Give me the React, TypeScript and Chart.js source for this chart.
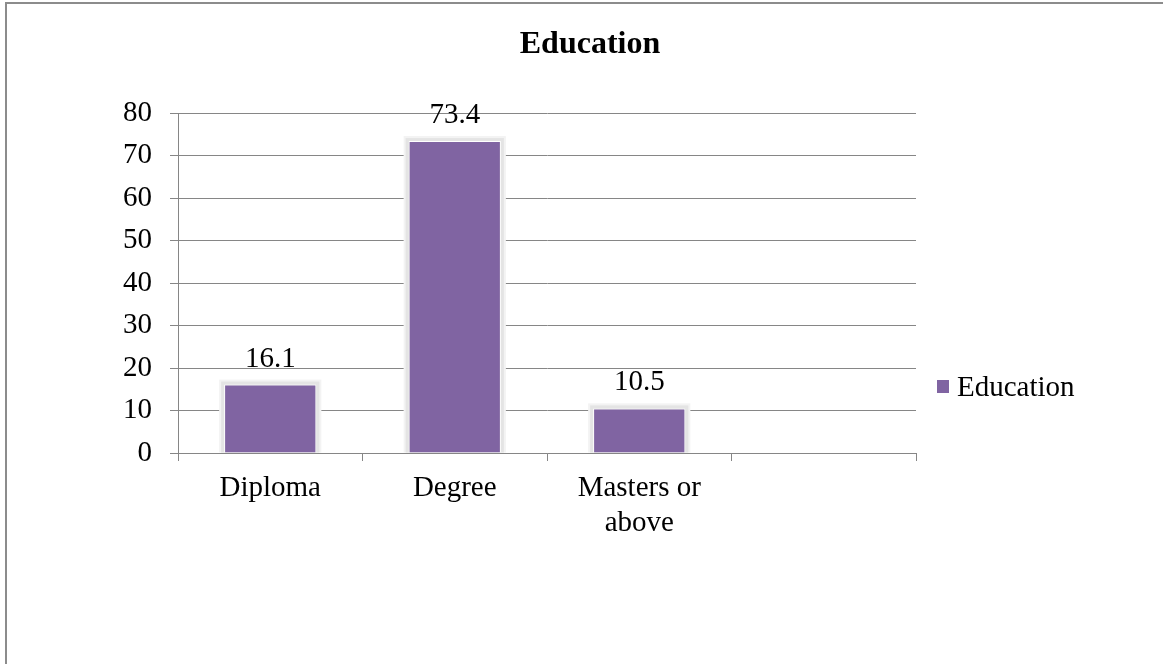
import React, { useEffect, useRef } from "react";
import { Chart, registerables } from "chart.js";

Chart.register(...registerables);

// ---- data ----
const chartTitle = "Education";
const seriesName = "Education";
const categories: (string | string[])[] = ["Diploma", "Degree", ["Masters or", "above"], ""];
const values: (number | null)[] = [16.1, 73.4, 10.5, null];
const yMin = 0;
const yMax = 80;
const yStep = 10;

// ---- styles ----
const FONT = "'Liberation Serif', 'Times New Roman', Times, serif";
const PURPLE = "#8064a2";
const GRID = "#868686";
const TEXT = "#000000";

const haloPlugin = {
  id: "barHalo",
  beforeDatasetsDraw(chart: any) {
    const ctx = chart.ctx;
    const meta = chart.getDatasetMeta(0);
    ctx.save();
    meta.data.forEach((el: any, i: number) => {
      if (values[i] == null) return;
      const p = el.getProps(["x", "y", "base", "width"], true);
      const left = p.x - p.width / 2;
      const h = p.base - p.y;
      ctx.fillStyle = "#f3f3f3";
      ctx.fillRect(left - 5, p.y - 5, p.width + 10, h + 5);
      ctx.fillStyle = "#e4e4e4";
      ctx.fillRect(left - 3, p.y - 3, p.width + 6, h + 3);
    });
    ctx.restore();
  },
};

const labelPlugin = {
  id: "valueLabels",
  afterDatasetsDraw(chart: any) {
    const ctx = chart.ctx;
    const meta = chart.getDatasetMeta(0);
    ctx.save();
    ctx.font = `29px ${FONT}`;
    ctx.fillStyle = TEXT;
    ctx.textAlign = "center";
    ctx.textBaseline = "alphabetic";
    meta.data.forEach((el: any, i: number) => {
      const v = values[i];
      if (v == null) return;
      const p = el.getProps(["x", "y"], true);
      ctx.fillText(v.toFixed(1), p.x, p.y - 18);
    });
    ctx.restore();
  },
};

const titleLegendPlugin = {
  id: "titleLegend",
  afterDraw(chart: any) {
    const ctx = chart.ctx;
    const area = chart.chartArea;
    ctx.save();
    // title
    ctx.font = `bold 32px ${FONT}`;
    ctx.fillStyle = TEXT;
    ctx.textAlign = "center";
    ctx.textBaseline = "alphabetic";
    ctx.fillText(chartTitle, 590, 53);
    // legend
    const lx = area.right + 21;
    const ly = 380;
    ctx.fillStyle = PURPLE;
    ctx.fillRect(lx, ly, 12, 13);
    ctx.font = `29px ${FONT}`;
    ctx.fillStyle = TEXT;
    ctx.textAlign = "left";
    ctx.fillText(seriesName, lx + 20, 396);
    ctx.restore();
  },
};

export default function App() {
  const canvasRef = useRef<HTMLCanvasElement | null>(null);

  useEffect(() => {
    if (!canvasRef.current) return;
    const chart = new Chart(canvasRef.current, {
      type: "bar",
      data: {
        labels: categories as any,
        datasets: [
          {
            label: seriesName,
            data: values as any,
            backgroundColor: PURPLE,
            borderColor: "#ffffff",
            borderWidth: 1,
            barPercentage: 0.5,
            categoryPercentage: 1,
          },
        ],
      },
      options: {
        responsive: false,
        animation: false,
        layout: { padding: { top: 113, right: 247, bottom: 0, left: 0 } },
        plugins: {
          legend: { display: false },
          title: { display: false },
          tooltip: { enabled: false },
        },
        scales: {
          x: {
            type: "category",
            offset: true,
            grid: {
              display: true,
              drawOnChartArea: false,
              drawTicks: true,
              tickLength: 8,
              color: GRID,
              offset: true,
            },
            border: { display: true, color: GRID, width: 1 },
            ticks: {
              color: TEXT,
              font: { family: FONT, size: 29, lineHeight: 1.2 },
              padding: 10,
              maxRotation: 0,
              minRotation: 0,
              autoSkip: false,
            },
            afterFit: (s: any) => {
              s.height = 211;
            },
          },
          y: {
            min: yMin,
            max: yMax,
            grid: { color: GRID, tickLength: 8, lineWidth: 1 },
            border: { display: true, color: GRID, width: 1 },
            ticks: {
              stepSize: yStep,
              color: TEXT,
              font: { family: FONT, size: 29 },
              padding: 18,
            },
            afterFit: (s: any) => {
              s.width = 178;
            },
          },
        },
      },
      plugins: [haloPlugin, labelPlugin, titleLegendPlugin],
    });
    return () => chart.destroy();
  }, []);

  return (
    <div style={{ position: "fixed", left: 0, top: 0, width: 1163, height: 664, background: "#fff", overflow: "hidden" }}>
      <div
        style={{
          position: "absolute",
          left: 5,
          top: 2,
          right: -10,
          bottom: -10,
          borderTop: "2px solid #8c8c8c",
          borderLeft: "2px solid #8c8c8c",
        }}
      />
      <canvas ref={canvasRef} width={1163} height={664} style={{ position: "absolute", left: 0, top: 0 }} />
    </div>
  );
}
